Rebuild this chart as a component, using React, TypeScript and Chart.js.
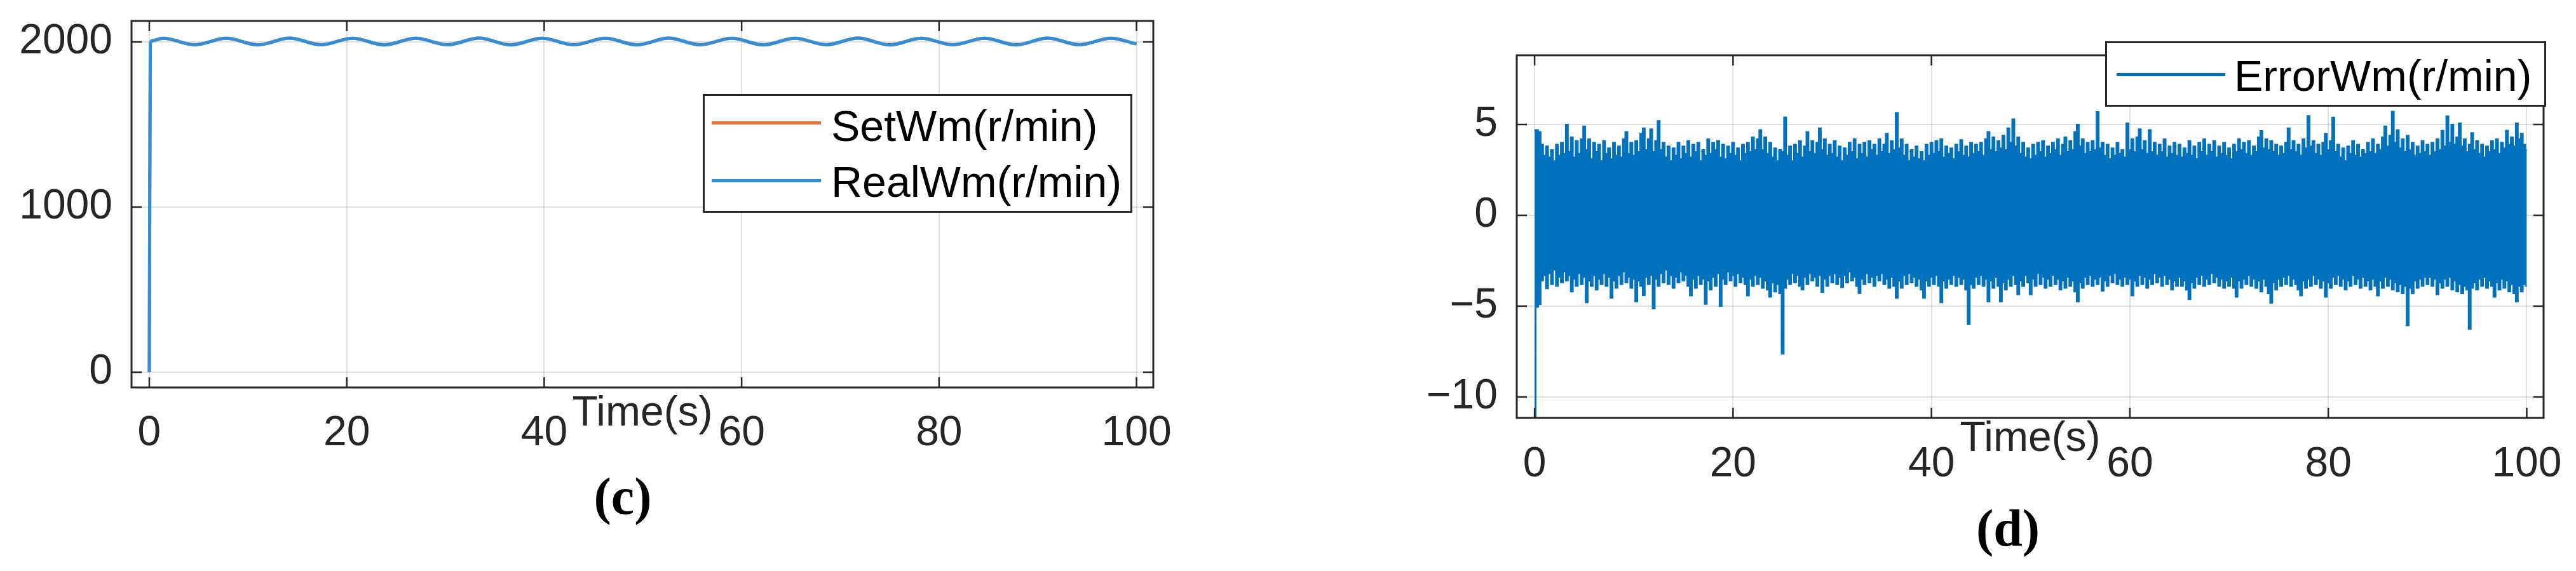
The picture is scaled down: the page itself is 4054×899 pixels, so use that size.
import React, { useEffect, useRef } from "react";
import { Chart, registerables } from "chart.js";

Chart.register(...registerables);

// ---------------- data ----------------
const xTicks = [0, 20, 40, 60, 80, 100];
const speedTicks = [0, 1000, 2000];
const errorTicks = [-10, -5, 0, 5];

// (c) speed response: time points at start-up, then successive crests / troughs
const tSpeed = [0, 0.1, 0.3, 1.4, 4.6, 7.8, 11.0, 14.2, 17.4, 20.6, 23.8, 27.0, 30.2, 33.4, 36.6, 39.8, 43.0, 46.2, 49.4, 52.6, 55.8, 59.0, 62.2, 65.4, 68.6, 71.8, 75.0, 78.2, 81.4, 84.6, 87.8, 91.0, 94.2, 97.4, 100];
const realWm = [0, 1990, 2008, 2022, 1983, 2022, 1982, 2023, 1983, 2022, 1982, 2022, 1983, 2023, 1982, 2022, 1983, 2022, 1982, 2023, 1983, 2022, 1982, 2022, 1983, 2023, 1982, 2022, 1983, 2022, 1982, 2023, 1983, 2022, 1988];
const setWm = [0, 1990, 2008, 2022, 1983, 2022, 1982, 2023, 1983, 2022, 1982, 2022, 1983, 2023, 1982, 2022, 1983, 2022, 1982, 2023, 1983, 2022, 1982, 2022, 1983, 2023, 1982, 2022, 1983, 2022, 1982, 2023, 1983, 2022, 1988];

// (d) speed error: sampled upper / lower edges of the dense error trace
const tErr = [
  0,0.25,0.5,0.75,1,1.25,1.5,1.75,2,2.25,2.5,2.75,3,3.25,3.5,3.75,4,4.25,4.5,4.75,
  5,5.25,5.5,5.75,6,6.25,6.5,6.75,7,7.25,7.5,7.75,8,8.25,8.5,8.75,9,9.25,9.5,9.75,
  10,10.25,10.5,10.75,11,11.25,11.5,11.75,12,12.25,12.5,12.75,13,13.25,13.5,13.75,14,14.25,14.5,14.75,
  15,15.25,15.5,15.75,16,16.25,16.5,16.75,17,17.25,17.5,17.75,18,18.25,18.5,18.75,19,19.25,19.5,19.75,
  20,20.25,20.5,20.75,21,21.25,21.5,21.75,22,22.25,22.5,22.75,23,23.25,23.5,23.75,24,24.25,24.5,24.75,
  25,25.25,25.5,25.75,26,26.25,26.5,26.75,27,27.25,27.5,27.75,28,28.25,28.5,28.75,29,29.25,29.5,29.75,
  30,30.25,30.5,30.75,31,31.25,31.5,31.75,32,32.25,32.5,32.75,33,33.25,33.5,33.75,34,34.25,34.5,34.75,
  35,35.25,35.5,35.75,36,36.25,36.5,36.75,37,37.25,37.5,37.75,38,38.25,38.5,38.75,39,39.25,39.5,39.75,
  40,40.25,40.5,40.75,41,41.25,41.5,41.75,42,42.25,42.5,42.75,43,43.25,43.5,43.75,44,44.25,44.5,44.75,
  45,45.25,45.5,45.75,46,46.25,46.5,46.75,47,47.25,47.5,47.75,48,48.25,48.5,48.75,49,49.25,49.5,49.75,
  50,50.25,50.5,50.75,51,51.25,51.5,51.75,52,52.25,52.5,52.75,53,53.25,53.5,53.75,54,54.25,54.5,54.75,
  55,55.25,55.5,55.75,56,56.25,56.5,56.75,57,57.25,57.5,57.75,58,58.25,58.5,58.75,59,59.25,59.5,59.75,
  60,60.25,60.5,60.75,61,61.25,61.5,61.75,62,62.25,62.5,62.75,63,63.25,63.5,63.75,64,64.25,64.5,64.75,
  65,65.25,65.5,65.75,66,66.25,66.5,66.75,67,67.25,67.5,67.75,68,68.25,68.5,68.75,69,69.25,69.5,69.75,
  70,70.25,70.5,70.75,71,71.25,71.5,71.75,72,72.25,72.5,72.75,73,73.25,73.5,73.75,74,74.25,74.5,74.75,
  75,75.25,75.5,75.75,76,76.25,76.5,76.75,77,77.25,77.5,77.75,78,78.25,78.5,78.75,79,79.25,79.5,79.75,
  80,80.25,80.5,80.75,81,81.25,81.5,81.75,82,82.25,82.5,82.75,83,83.25,83.5,83.75,84,84.25,84.5,84.75,
  85,85.25,85.5,85.75,86,86.25,86.5,86.75,87,87.25,87.5,87.75,88,88.25,88.5,88.75,89,89.25,89.5,89.75,
  90,90.25,90.5,90.75,91,91.25,91.5,91.75,92,92.25,92.5,92.75,93,93.25,93.5,93.75,94,94.25,94.5,94.75,
  95,95.25,95.5,95.75,96,96.25,96.5,96.75,97,97.25,97.5,97.75,98,98.25,98.5,98.75,99,99.25,99.5,99.75,
  100
];
const errUpper = [
  4.7,4.7,4.6,3.9,3.3,3.8,3.2,3.6,3.0,3.9,3.3,4.0,3.4,5.0,3.5,4.3,3.2,4.1,3.4,4.2,
  4.9,3.6,4.2,3.1,4.0,3.5,3.9,3.0,4.1,3.4,3.7,3.1,4.0,3.3,3.8,3.2,4.2,4.6,3.4,4.0,
  3.3,4.1,3.5,4.5,4.8,3.6,4.2,4.75,3.5,4.1,5.2,3.6,4.0,3.2,3.8,3.0,3.7,3.3,4.0,3.1,
  3.8,3.4,4.1,3.2,3.9,3.5,4.0,3.0,3.6,3.3,4.2,3.4,4.0,3.6,4.1,3.2,3.9,3.1,3.8,3.4,
  4.0,3.3,3.7,3.0,3.9,3.4,4.0,3.5,4.3,3.6,4.2,4.7,3.6,4.3,3.4,4.0,3.2,3.7,3.0,3.6,
  3.5,5.4,3.3,3.8,3.0,3.9,3.4,4.1,3.2,3.8,4.6,3.5,4.1,3.4,4.0,4.8,3.6,4.2,3.3,3.9,
  3.4,4.1,3.2,3.8,3.0,3.7,3.3,4.0,3.5,4.2,3.1,3.9,3.4,4.0,3.2,4.1,3.6,3.9,3.3,4.2,
  3.5,3.9,4.5,3.4,4.1,3.6,5.65,3.7,4.2,3.3,3.9,3.0,3.6,3.2,3.8,3.1,3.5,3.0,3.9,3.3,
  4.0,3.4,4.1,3.5,4.2,3.2,3.8,3.4,3.7,3.1,3.9,3.5,4.15,3.3,3.8,3.2,4.0,3.4,3.9,3.5,
  4.0,3.3,4.2,4.6,3.6,4.3,3.5,4.1,3.7,4.4,3.6,4.8,4.0,5.3,3.8,4.3,3.4,4.0,3.2,3.7,
  3.1,3.9,3.3,4.0,3.5,4.1,3.2,3.8,3.4,4.0,3.6,4.2,3.3,3.9,4.3,3.5,4.1,3.6,4.6,5.0,
  3.8,4.2,3.4,4.0,3.5,4.1,3.6,5.7,3.7,4.0,3.3,3.9,3.1,3.7,3.3,4.0,3.4,3.6,3.2,5.07,
  3.6,4.2,3.5,4.3,4.75,3.6,4.1,3.4,4.7,3.5,4.0,3.3,3.9,3.5,4.2,3.2,3.8,3.4,4.0,3.3,
  3.9,3.2,3.7,3.4,4.1,3.3,3.8,3.1,4.0,3.5,4.2,3.3,3.9,3.5,4.1,3.2,3.8,3.4,4.0,3.3,
  3.7,3.1,3.9,3.5,4.2,3.6,4.0,3.4,4.1,3.3,3.8,3.5,4.3,4.65,3.7,4.2,3.6,4.1,3.5,3.9,
  3.3,3.8,3.4,4.0,4.8,3.6,4.1,3.5,3.9,3.3,4.2,3.7,5.48,3.8,4.1,3.4,3.9,3.3,4.0,4.5,
  3.6,4.1,5.39,3.5,3.9,3.2,3.7,3.0,3.8,3.4,4.1,3.3,3.9,3.2,3.6,3.4,4.0,3.5,4.2,3.4,
  3.9,3.6,4.3,4.9,3.8,4.4,5.72,4.0,4.7,3.7,4.2,3.5,4.4,3.6,4.0,3.3,3.8,3.4,4.1,3.5,
  3.9,3.3,4.0,3.5,4.2,3.6,4.67,3.8,5.46,4.0,5.0,3.9,4.3,5.07,3.8,4.2,3.5,3.9,4.54,3.6,
  4.1,3.4,3.9,3.2,3.8,3.5,4.1,3.6,4.2,3.4,4.0,3.7,4.67,3.9,4.3,3.8,5.07,4.2,4.5,3.9,
  3.6
];
const errLower = [
  -12,-5.05,-4.9,-3.6,-3.3,-4.03,-3.2,-3.8,-3.0,-3.9,-3.4,-3.7,-3.1,-3.6,-3.3,-4.2,-3.5,-3.9,-3.2,-3.8,
  -3.4,-4.8,-3.6,-3.9,-3.3,-4.1,-3.5,-3.8,-3.2,-3.9,-3.4,-4.55,-3.6,-4.0,-3.3,-3.8,-3.1,-3.7,-3.4,-4.0,
  -3.5,-4.75,-3.6,-3.9,-4.4,-3.4,-3.8,-3.3,-5.14,-3.5,-3.9,-3.2,-3.7,-3.0,-3.8,-3.3,-4.0,-3.4,-3.7,-3.1,
  -3.6,-3.3,-3.9,-4.42,-3.5,-4.0,-3.3,-3.8,-3.5,-4.88,-3.6,-4.1,-3.4,-3.9,-3.2,-5.0,-3.5,-3.8,-3.1,-3.6,
  -3.3,-3.9,-3.2,-3.7,-3.4,-3.8,-4.42,-3.5,-3.9,-3.3,-3.8,-3.4,-4.0,-3.6,-4.1,-4.49,-3.7,-4.2,-3.8,-4.3,
  -7.63,-4.0,-3.5,-3.8,-3.2,-3.7,-3.3,-3.9,-4.1,-3.4,-3.8,-3.2,-3.6,-3.4,-3.9,-3.3,-4.23,-3.5,-3.9,-3.3,
  -3.7,-3.2,-3.8,-3.4,-3.97,-3.3,-3.7,-3.1,-3.6,-3.4,-3.9,-4.29,-3.5,-3.8,-3.2,-3.7,-3.4,-3.9,-3.3,-3.6,
  -3.2,-3.8,-3.5,-4.0,-3.4,-3.9,-4.55,-3.6,-4.0,-3.3,-3.8,-3.2,-3.7,-3.4,-3.9,-3.5,-4.1,-4.55,-3.6,-3.9,
  -3.4,-3.8,-3.3,-3.9,-4.8,-3.6,-4.0,-3.5,-3.8,-3.3,-3.9,-3.4,-3.8,-3.5,-4.1,-6.0,-3.8,-4.0,-3.4,-3.8,
  -3.3,-3.9,-3.5,-4.75,-3.6,-4.0,-3.4,-3.9,-4.75,-3.7,-4.1,-3.5,-3.9,-3.3,-3.8,-4.36,-3.6,-3.9,-3.3,-3.7,
  -4.36,-3.5,-3.9,-3.2,-3.8,-3.4,-4.0,-3.5,-3.9,-3.3,-3.8,-3.5,-4.1,-3.6,-4.0,-3.4,-3.9,-3.6,-4.2,-4.75,
  -3.7,-4.0,-3.4,-3.8,-3.3,-3.9,-3.5,-3.8,-3.4,-4.16,-3.6,-3.9,-3.3,-3.7,-3.2,-3.8,-3.5,-3.9,-3.4,-3.8,
  -3.5,-4.42,-3.6,-3.9,-3.3,-3.8,-3.4,-4.0,-3.5,-3.8,-3.2,-3.7,-3.4,-3.9,-3.3,-3.8,-3.5,-4.1,-3.6,-3.9,
  -3.4,-3.9,-3.6,-4.1,-4.62,-3.7,-4.0,-3.4,-3.8,-3.3,-3.9,-3.5,-3.8,-3.2,-3.7,-3.4,-3.9,-3.5,-4.0,-3.6,
  -3.9,-3.4,-4.0,-4.49,-3.6,-4.0,-3.5,-3.8,-3.3,-3.9,-3.5,-4.0,-3.6,-4.2,-3.5,-3.9,-4.3,-4.82,-3.7,-4.1,
  -3.5,-3.9,-3.4,-3.8,-3.3,-3.9,-3.5,-3.8,-4.1,-4.42,-3.6,-4.0,-3.5,-3.9,-3.3,-3.8,-3.5,-4.0,-3.6,-4.49,
  -3.7,-4.0,-3.4,-3.8,-3.3,-3.9,-3.5,-4.1,-3.6,-3.9,-3.3,-3.8,-3.5,-4.0,-3.4,-3.9,-3.6,-4.1,-3.5,-3.9,
  -4.42,-3.6,-4.0,-3.4,-3.9,-3.5,-4.1,-3.7,-4.2,-3.8,-4.3,-3.9,-6.06,-4.0,-4.3,-3.6,-4.0,-3.5,-3.9,-3.4,
  -3.8,-3.4,-3.9,-3.5,-4.36,-3.7,-4.0,-3.5,-3.9,-3.4,-4.1,-3.6,-4.2,-3.8,-4.3,-3.9,-4.1,-6.26,-4.0,-3.7,
  -4.1,-3.5,-3.9,-3.4,-4.0,-3.6,-3.9,-4.49,-3.7,-4.1,-3.5,-4.0,-3.6,-4.2,-3.8,-4.3,-4.75,-3.9,-4.2,-3.8,
  -3.9
];

// ---------------- styling ----------------
const SANS = "'Liberation Sans', Arial, Helvetica, sans-serif";
const SERIF = "'Liberation Serif', 'Times New Roman', serif";
const AXIS_COLOR = "#262626";
const GRID_COLOR = "rgba(38,38,38,0.15)";
const BLUE_C = "#2F8FDD";
const ORANGE_C = "#E9703A";
const BLUE_D = "#0072BD";
const TICK_SIZE = 66;

function fmt(v: number): string {
  return v < 0 ? "\u2212" + Math.abs(v) : String(v);
}

function pts(xs: number[], ys: number[]) {
  const n = Math.min(xs.length, ys.length);
  const out: { x: number; y: number }[] = [];
  for (let i = 0; i < n; i++) out.push({ x: xs[i], y: ys[i] });
  return out;
}

const boxPlugin = {
  id: "matlabBox",
  afterDatasetsDraw(chart: any) {
    const { ctx, chartArea, scales } = chart;
    const { left, top, right, bottom } = chartArea;
    const L = 16;
    ctx.save();
    ctx.strokeStyle = AXIS_COLOR;
    ctx.lineWidth = 2.5;
    ctx.beginPath();
    scales.x.ticks.forEach((t: any) => {
      const px = scales.x.getPixelForValue(t.value);
      ctx.moveTo(px, bottom);
      ctx.lineTo(px, bottom - L);
      ctx.moveTo(px, top);
      ctx.lineTo(px, top + L);
    });
    scales.y.ticks.forEach((t: any) => {
      const py = scales.y.getPixelForValue(t.value);
      ctx.moveTo(left, py);
      ctx.lineTo(left + L, py);
      ctx.moveTo(right, py);
      ctx.lineTo(right - L, py);
    });
    ctx.stroke();
    ctx.lineWidth = 3;
    ctx.strokeRect(left, top, right - left, bottom - top);
    ctx.restore();
  },
};

interface Cfg {
  yMin: number;
  yMax: number;
  yTicks: number[];
  yAxisWidth: number;
  xAxisHeight: number;
  padTop: number;
  padRight: number;
  xLabelPad: number;
  titlePad: number;
}

function buildOptions(cfg: Cfg): any {
  const tickFont = { family: SANS, size: TICK_SIZE };
  return {
    responsive: false,
    animation: false,
    devicePixelRatio: 1,
    events: [],
    layout: { padding: { left: 0, top: cfg.padTop, right: cfg.padRight, bottom: 0 } },
    plugins: {
      legend: { display: false },
      tooltip: { enabled: false },
      title: { display: false },
    },
    scales: {
      x: {
        type: "linear",
        min: -1.8,
        max: 101.7,
        afterBuildTicks: (s: any) => {
          s.ticks = xTicks.map((v) => ({ value: v }));
        },
        afterFit: (s: any) => {
          s.height = cfg.xAxisHeight;
          s.paddingLeft = 0;
          s.paddingRight = 0;
          s.paddingTop = 0;
          s.paddingBottom = 0;
        },
        grid: { color: GRID_COLOR, lineWidth: 2, drawTicks: false },
        border: { display: false },
        ticks: {
          autoSkip: false,
          maxRotation: 0,
          minRotation: 0,
          padding: cfg.xLabelPad,
          color: AXIS_COLOR,
          font: tickFont,
          callback: (v: any) => fmt(Number(v)),
        },
        title: {
          display: true,
          text: "Time(s)",
          color: AXIS_COLOR,
          font: tickFont,
          padding: { top: 0, bottom: cfg.titlePad },
        },
      },
      y: {
        type: "linear",
        min: cfg.yMin,
        max: cfg.yMax,
        afterBuildTicks: (s: any) => {
          s.ticks = cfg.yTicks.map((v) => ({ value: v }));
        },
        afterFit: (s: any) => {
          s.width = cfg.yAxisWidth;
          s.paddingLeft = 0;
          s.paddingRight = 0;
          s.paddingTop = 0;
          s.paddingBottom = 0;
        },
        grid: { color: GRID_COLOR, lineWidth: 2, drawTicks: false },
        border: { display: false },
        ticks: {
          autoSkip: false,
          padding: 30,
          color: AXIS_COLOR,
          font: tickFont,
          callback: (v: any) => fmt(Number(v)),
        },
      },
    },
  };
}

export default function App() {
  const refC = useRef<HTMLCanvasElement>(null);
  const refD = useRef<HTMLCanvasElement>(null);

  useEffect(() => {
    const chartC = new Chart(refC.current as HTMLCanvasElement, {
      type: "line",
      data: {
        datasets: [
          {
            label: "RealWm(r/min)",
            data: pts(tSpeed, realWm),
            borderColor: BLUE_C,
            backgroundColor: BLUE_C,
            borderWidth: 5,
            pointRadius: 0,
            cubicInterpolationMode: "monotone",
            fill: false,
            order: 1,
          },
          {
            label: "SetWm(r/min)",
            data: pts(tSpeed, setWm),
            borderColor: ORANGE_C,
            backgroundColor: ORANGE_C,
            borderWidth: 5,
            pointRadius: 0,
            cubicInterpolationMode: "monotone",
            fill: false,
            order: 2,
          },
        ],
      },
      options: buildOptions({
        yMin: -92,
        yMax: 2127,
        yTicks: speedTicks,
        yAxisWidth: 207,
        xAxisHeight: 289,
        padTop: 33,
        padRight: 2000 - 1815,
        xLabelPad: 33,
        titlePad: 208,
      }),
      plugins: [boxPlugin],
    } as any);

    const chartD = new Chart(refD.current as HTMLCanvasElement, {
      type: "line",
      data: {
        datasets: [
          {
            label: "ErrorWm(r/min)",
            data: pts(tErr, errUpper),
            borderColor: BLUE_D,
            backgroundColor: BLUE_D,
            borderWidth: 2,
            pointRadius: 0,
            stepped: "middle",
            fill: "+1",
          },
          {
            label: "ErrorWm lower",
            data: pts(tErr, errLower),
            borderColor: BLUE_D,
            backgroundColor: BLUE_D,
            borderWidth: 2,
            pointRadius: 0,
            stepped: "middle",
            fill: false,
          },
        ],
      },
      options: buildOptions({
        yMin: -11.15,
        yMax: 8.81,
        yTicks: errorTicks,
        yAxisWidth: 347,
        xAxisHeight: 241,
        padTop: 87,
        padRight: 2014 - (4003 - 2040),
        xLabelPad: 34,
        titlePad: 168,
      }),
      plugins: [boxPlugin],
    } as any);

    return () => {
      chartC.destroy();
      chartD.destroy();
    };
  }, []);

  const legendText: React.CSSProperties = {
    position: "absolute",
    fontFamily: SANS,
    fontSize: 68,
    lineHeight: "68px",
    color: "#000",
    whiteSpace: "nowrap",
  };
  const legendBox: React.CSSProperties = {
    position: "absolute",
    boxSizing: "border-box",
    border: "3px solid " + AXIS_COLOR,
    background: "#fff",
  };
  const panelLabel: React.CSSProperties = {
    position: "absolute",
    width: 200,
    textAlign: "center",
    fontFamily: SERIF,
    fontWeight: "bold",
    fontSize: 82,
    lineHeight: "82px",
    color: "#000",
  };

  return (
    <div
      style={{
        position: "absolute",
        left: 0,
        top: 0,
        width: 4054,
        height: 899,
        background: "#fff",
        overflow: "hidden",
      }}
    >
      <canvas
        ref={refC}
        width={2000}
        height={899}
        style={{ position: "absolute", left: 0, top: 0, width: 2000, height: 899 }}
      />
      <canvas
        ref={refD}
        width={2014}
        height={899}
        style={{ position: "absolute", left: 2040, top: 0, width: 2014, height: 899 }}
      />

      {/* legend (c) */}
      <div style={{ ...legendBox, left: 1106, top: 148, width: 676, height: 187 }} />
      <div style={{ position: "absolute", left: 1120, top: 191, width: 172, height: 5, background: ORANGE_C }} />
      <div style={{ position: "absolute", left: 1120, top: 282, width: 172, height: 5, background: BLUE_C }} />
      <div style={{ ...legendText, left: 1308, top: 164 }}>SetWm(r/min)</div>
      <div style={{ ...legendText, left: 1308, top: 252 }}>RealWm(r/min)</div>

      {/* legend (d) */}
      <div style={{ ...legendBox, left: 3313, top: 65, width: 694, height: 103 }} />
      <div style={{ position: "absolute", left: 3331, top: 115, width: 171, height: 5, background: BLUE_D }} />
      <div style={{ ...legendText, left: 3516, top: 85 }}>ErrorWm(r/min)</div>

      {/* panel labels */}
      <div style={{ ...panelLabel, left: 880, top: 741 }}>(c)</div>
      <div style={{ ...panelLabel, left: 3060, top: 791 }}>(d)</div>
    </div>
  );
}
